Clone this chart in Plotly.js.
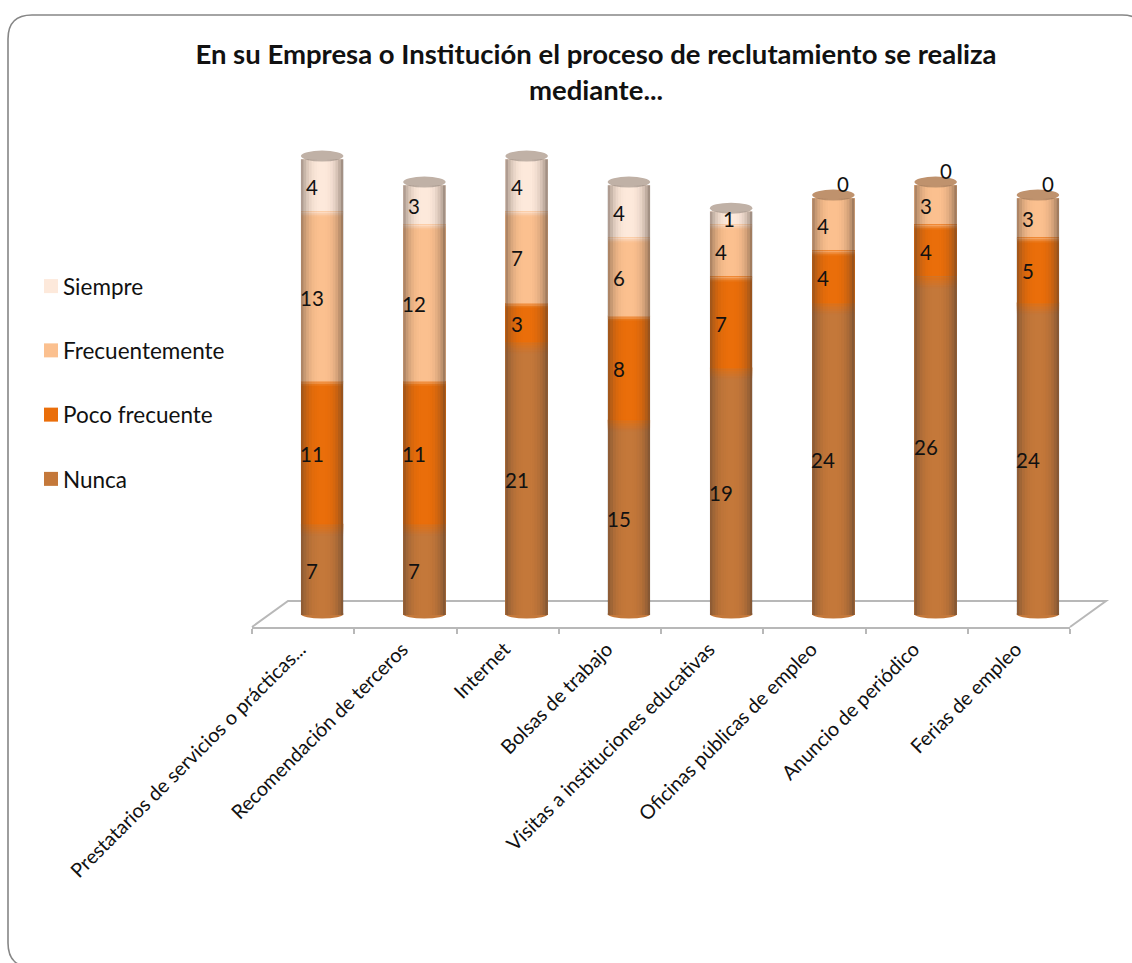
<!DOCTYPE html>
<html><head><meta charset="utf-8">
<script src="https://cdn.plot.ly/plotly-3.0.1.min.js"></script>
<style>html,body{margin:0;padding:0;background:#fff}</style></head>
<body><div id="c" style="width:1132px;height:963px"></div>
<script>
const categories=["Prestatarios de servicios o prácticas...","Recomendación de terceros","Internet","Bolsas de trabajo","Visitas a instituciones educativas","Oficinas públicas de empleo","Anuncio de periódico","Ferias de empleo"];
const nunca=[7,7,21,15,19,24,26,24];
const poco=[11,11,3,8,7,4,4,5];
const frecuente=[13,12,7,6,4,4,3,3];
const siempre=[4,3,4,4,1,0,0,0];
const names=["Nunca","Poco frecuente","Frecuentemente","Siempre"];
const colors=["#C4783A","#EA6E0A","#FBC08F","#FDE9DB"];
const series=[nunca,poco,frecuente,siempre];
const W=1132,H=963,font='Lato, sans-serif';
const px=x=>x/W, py=y=>1-y/H;
const axL=252,axR=1070,axY=627,plotTop=100,y0=615,u=13.02;
const barW=0.415, shift=0.186;
const rangeLo=-(axY-y0)/u, rangeHi=(y0-plotTop)/u;
const hex=c=>[1,3,5].map(i=>parseInt(c.substr(i,2),16));
const traces=series.map((v,i)=>({type:'bar',name:names[i],x:categories,y:v,width:barW,offset:shift-barW/2,
  legendgroup:names[i],legendrank:4-i,marker:{color:colors[i],line:{width:0}},hoverinfo:'x+y+name'}));
const shapes=[],annotations=[];
// frame
const r=24,fx0=8,fy0=15,fx1=1146,fy1=967;
const P=(x,y)=>px(x)+','+py(y);
shapes.push({type:'path',xref:'paper',yref:'paper',layer:'below',line:{color:'#868686',width:1.6},fillcolor:'rgba(0,0,0,0)',
 path:`M${P(fx0+r,fy0)} L${P(fx1-r,fy0)} Q${P(fx1,fy0)} ${P(fx1,fy0+r)} L${P(fx1,fy1-r)} Q${P(fx1,fy1)} ${P(fx1-r,fy1)} L${P(fx0+r,fy1)} Q${P(fx0,fy1)} ${P(fx0,fy1-r)} L${P(fx0,fy0+r)} Q${P(fx0,fy0)} ${P(fx0+r,fy0)} Z`});
// floor of the chart
shapes.push({type:'path',xref:'paper',yref:'paper',layer:'below',line:{color:'#b8b8b8',width:2},
 path:`M${P(axL,axY)} L${P(288,601)} L${P(1106,601)} L${P(axR,axY)}`});
const ryB=4.5/u, ryT=5.5/u;
categories.forEach((c,k)=>{
  const cx=k+shift, hw=barW/2;
  let acc=0; const tops=series.map(v=>acc+=v[k]);
  const total=acc;
  // rounded foot
  shapes.push({type:'circle',xref:'x',yref:'y',layer:'below',x0:cx-hw,x1:cx+hw,y0:0.08-ryB,y1:0.08+ryB,fillcolor:colors[0],line:{width:0}});
  // soft transitions between segments
  for(let s=0;s<3;s++){
    if(!series[s][k]||!series[s+1][k])continue;
    const b=tops[s], nb=s===0?7:3;
    for(let n=0;n<nb;n++){
      shapes.push({type:'rect',xref:'x',yref:'y',x0:cx-hw,x1:cx+hw,y0:b-(n+1)*0.13,y1:b-n*0.13,
        fillcolor:colors[s+1],opacity:0.8*(1-(n+0.5)/nb),line:{width:0}});
    }
  }
  // cap
  const topIdx=[3,2,1,0].find(s=>series[s][k]>0);
  const tc=hex(colors[topIdx]).map(x=>Math.round(x*0.76));
  shapes.push({type:'circle',xref:'x',yref:'y',x0:cx-hw,x1:cx+hw,y0:total+0.25-ryT,y1:total+0.25+ryT,
    fillcolor:`rgb(${tc})`,line:{width:0}});
  // cylinder shading
  const N=16;
  for(let n=0;n<N;n++){
    const t=(n+0.5)/N*2-1, a=0.55*Math.pow(Math.abs(t),2.8)*(t>0?1.1:0.95);
    shapes.push({type:'rect',xref:'x',yref:'y',x0:cx-hw+n*2*hw/N,x1:cx-hw+(n+1)*2*hw/N,y0:0,y1:total,
      fillcolor:'#4a3a30',opacity:a,line:{width:0}});
  }
  // value labels
  let base=0;
  series.forEach((v,s)=>{
    const val=v[k];
    let tx=cx-10/102.25, ty=base+val/2-1.5/u;
    if(val===0){tx=cx+10/102.25; ty=total+14/u;}
    else if(val===1){tx=cx-2/102.25;}
    if(val!==0||s===3) annotations.push({xref:'x',yref:'y',x:tx,y:ty,text:String(val),showarrow:false,
      font:{family:font,size:20.5,color:'#111'},xanchor:'center',yanchor:'middle'});
    base+=val;
  });
});
const layout={width:W,height:H,margin:{l:0,r:0,t:0,b:0},barmode:'stack',showlegend:true,
 paper_bgcolor:'#fff',plot_bgcolor:'rgba(0,0,0,0)',
 font:{family:font,size:18,color:'#111'},
 title:{text:'<b>En su Empresa o Institución el proceso de reclutamiento se realiza<br>mediante...</b>',font:{size:27.5,color:'#111',family:font},x:596/W,xanchor:'center',xref:'paper',y:1-64/H,yanchor:'middle'},
 xaxis:{type:'category',domain:[px(axL),px(axR)],tickangle:-45,tickson:'boundaries',showline:true,linecolor:'#b8b8b8',linewidth:2,ticks:'outside',ticklen:5,tickcolor:'#b8b8b8',tickwidth:1.5,tickfont:{size:19.8,color:'#111',family:font},ticklabelshift:-3,ticklabelstandoff:1,automargin:false,showgrid:false,fixedrange:true},
 yaxis:{domain:[py(axY),py(plotTop)],range:[rangeLo,rangeHi],showticklabels:false,showgrid:false,zeroline:false,ticks:'',fixedrange:true},
 legend:{x:px(31),y:py(265),yanchor:'top',xanchor:'left',traceorder:'grouped',font:{size:22.5,color:'#111',family:font},tracegroupgap:32,bgcolor:'rgba(0,0,0,0)'},
 shapes,annotations
};
Plotly.newPlot('c',traces,layout,{displayModeBar:false}).then(()=>{
  document.querySelectorAll('.legendtext').forEach(t=>t.setAttribute('x',+t.getAttribute('x')-8));
  document.querySelectorAll('.legendpoints path').forEach(p=>p.setAttribute('d','M7,7H-7V-7H7Z'));
});
</script></body></html>
